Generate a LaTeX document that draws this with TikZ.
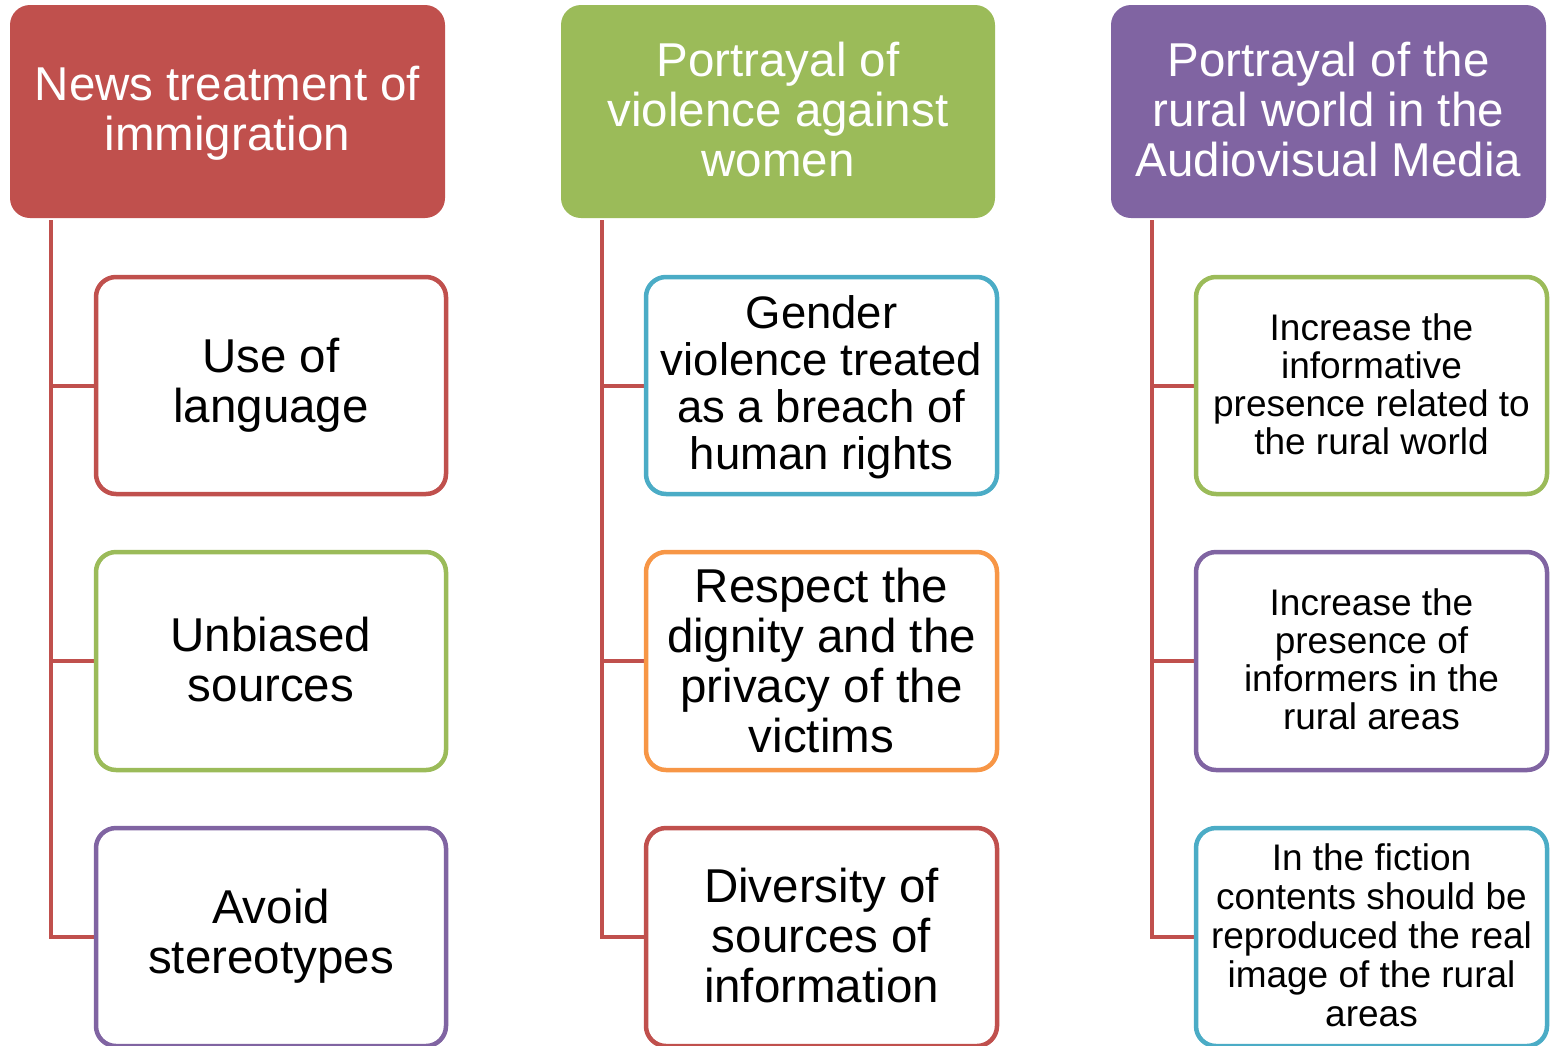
\documentclass[tikz,border=0pt]{standalone}
\usepackage{fontspec}
\setmainfont{Liberation Sans}
\definecolor{cred}{HTML}{C0504D}
\definecolor{cgreen}{HTML}{9BBB59}
\definecolor{cpurple}{HTML}{8064A2}
\definecolor{cblue}{HTML}{4BACC6}
\definecolor{corange}{HTML}{F79646}
\begin{document}
\begin{tikzpicture}[x=1pt,y=-1pt,
  header/.style={rounded corners=20pt,fill=#1,draw=none,text=white},
  child/.style={rounded corners=20pt,draw=#1,line width=4.5pt,fill=white},
  conn/.style={draw=cred,line width=4.5pt},
  htext/.style={text=white,align=center,font=\fontsize{47.5}{50}\selectfont},
  btext/.style={text=black,align=center,font=\fontsize{47.5}{50}\selectfont},
  stext/.style={text=black,align=center,font=\fontsize{37}{39}\selectfont}]
\useasboundingbox (0,0) rectangle (1550,1045);
\begin{scope}
\clip (0,0) rectangle (1550,1045);
% headers
\fill[header=cred] (10,5) rectangle (445,218);
\fill[header=cgreen] (561,5) rectangle (995,218);
\fill[header=cpurple] (1111,5) rectangle (1546,218);
\node[htext] (h1) at (227.5,113) {News treatment of\\immigration};
\node[htext] (h2) at (778,110) {Portrayal of\\violence against\\women};
\node[htext] (h3) at (1328.5,110) {Portrayal of the\\rural world in the\\Audiovisual Media};
% connectors
\coordinate (t1) at (51,220);
\coordinate (t2) at (602,220);
\coordinate (t3) at (1152,220);
\foreach \c/\x in {1/51,2/602,3/1152}{
  \coordinate (b\c a) at (\x,386);
  \coordinate (b\c b) at (\x,661);
  \coordinate (b\c c) at (\x,937);
}
\draw[conn] (t1) -- (b1c) -- (96,937);
\draw[conn] (b1a) -- (96,386);
\draw[conn] (b1b) -- (96,661);
\draw[conn] (t2) -- (b2c) -- (646,937);
\draw[conn] (b2a) -- (646,386);
\draw[conn] (b2b) -- (646,661);
\draw[conn] (t3) -- (b3c) -- (1196,937);
\draw[conn] (b3a) -- (1196,386);
\draw[conn] (b3b) -- (1196,661);
% child boxes col1
\draw[child=cred] (96,277) rectangle (446,494);
\draw[child=cgreen] (96,552) rectangle (446,770);
\draw[child=cpurple] (96,828) rectangle (446,1046);
\node[btext] (c1a) at (271,385) {Use of\\language};
\node[btext] (c1b) at (271,660) {Unbiased\\sources};
\node[btext] (c1c) at (271,936) {Avoid\\stereotypes};
% col2
\draw[child=cblue] (646,277) rectangle (997,494);
\draw[child=corange] (646,552) rectangle (997,770);
\draw[child=cred] (646,828) rectangle (997,1046);
\node[btext,font=\fontsize{45.5}{47}\selectfont] (c2a) at (821.5,387) {Gender\\violence treated\\as a breach of\\human rights};
\node[btext] (c2b) at (821.5,661) {Respect the\\dignity and the\\privacy of the\\victims};
\node[btext] (c2c) at (821.5,936) {Diversity of\\sources of\\information};
% col3
\draw[child=cgreen] (1196,277) rectangle (1547,494);
\draw[child=cpurple] (1196,552) rectangle (1547,770);
\draw[child=cblue] (1196,828) rectangle (1547,1046);
\node[stext,font=\fontsize{37}{38}\selectfont] (c3a) at (1371.5,384.5) {Increase the\\informative\\presence related to\\the rural world};
\node[stext,font=\fontsize{37}{38}\selectfont] (c3b) at (1371.5,659.5) {Increase the\\presence of\\informers in the\\rural areas};
\node[stext] (c3c) at (1371.5,935.5) {In the fiction\\contents should be\\reproduced the real\\image of the rural\\areas};
\end{scope}
\end{tikzpicture}
\end{document}
